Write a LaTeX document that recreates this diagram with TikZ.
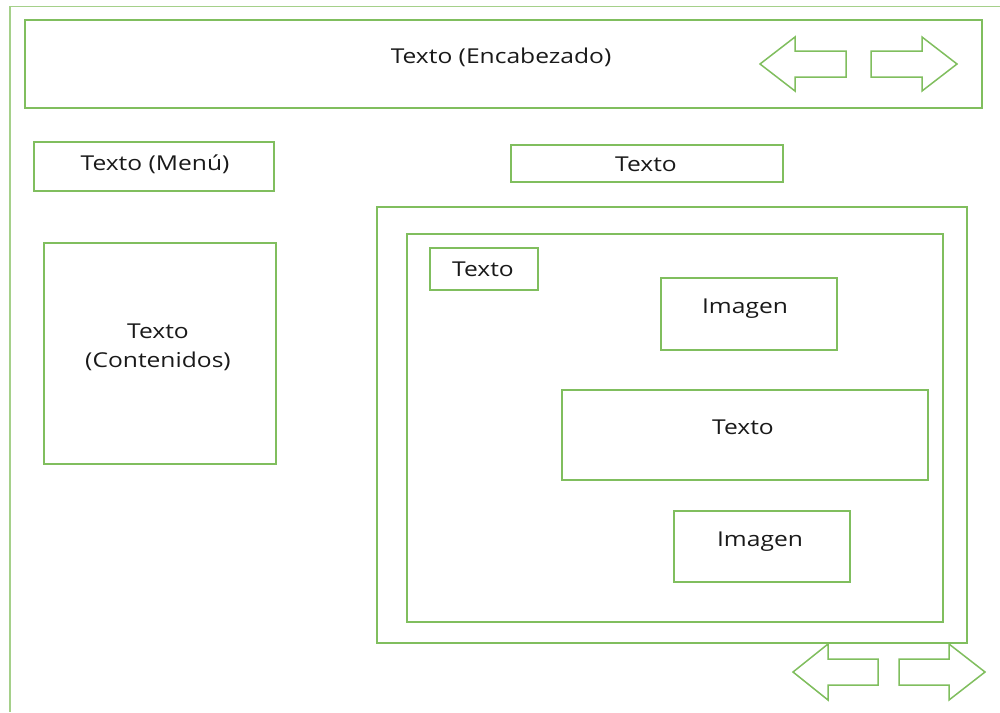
\documentclass[tikz,border=0pt]{standalone}
\usepackage{fontspec}
\usepackage{graphicx}
\setmainfont{Open Sans}
\usetikzlibrary{positioning}
\definecolor{boxgreen}{RGB}{128,190,94}
\definecolor{framegreen}{RGB}{165,208,138}
\newcommand{\widetext}[1]{\scalebox{1.2}[1]{\begin{tabular}{@{}c@{}}#1\end{tabular}}}

\begin{document}
\begin{tikzpicture}[x=1pt,y=-1pt,
	box/.style={draw=boxgreen, line width=1.8pt, inner sep=0pt},
	txt/.style={font=\fontsize{20.5}{29}\selectfont, text=black!90, inner sep=0pt},
	arrowshape/.style={draw=boxgreen, line width=1.5pt, fill=white, line join=miter}]
		\useasboundingbox (0,0) rectangle (1000,712);
		
		%page frame
		\draw [framegreen, line width=1pt] (10,6) -- (1000,6);
		\draw [framegreen, line width=2.2pt] (10,6) -- (10,712);
		
		%header
		\node[box, minimum width=957, minimum height=88] (header) at (503.5,64) {};
		\node[txt] (header-t) at (501,58) {\widetext{Texto (Encabezado)}};
		\draw[arrowshape] (760,64) -- (795,37) -- (795,51) -- (846,51) -- (846,77) -- (795,77) -- (795,91) -- cycle;
		\draw[arrowshape] (871,51) -- (922,51) -- (922,37) -- (957,64) -- (922,91) -- (922,77) -- (871,77) -- cycle;
		
		%left column
		\node[box, minimum width=240, minimum height=49] (menu) at (154,166.5) {};
		\node[txt] (menu-t) at (155,165) {\widetext{Texto (Menú)}};
		\node[box, minimum width=232, minimum height=221] (contenidos) at (160,353.5) {};
		\node[txt] (contenidos-t) at (158,347) {\widetext{Texto\\(Contenidos)}};
		
		%right column
		\node[box, minimum width=272, minimum height=37] (titulo) at (647,163.5) {};
		\node[txt] (titulo-t) at (646,166) {\widetext{Texto}};
		\node[box, minimum width=590, minimum height=436] (marco) at (672,425) {};
		\node[box, minimum width=536, minimum height=388] (panel) at (675,428) {};
		\node[box, minimum width=108, minimum height=42] (rotulo) at (484,269) {};
		\node[txt] (rotulo-t) at (483,271) {\widetext{Texto}};
		\node[box, minimum width=176, minimum height=72] (imagen1) at (749,314) {};
		\node[txt] (imagen1-t) at (745,308) {\widetext{Imagen}};
		\node[box, minimum width=366, minimum height=90] (cuerpo) at (745,435) {};
		\node[txt] (cuerpo-t) at (743,429) {\widetext{Texto}};
		\node[box, minimum width=176, minimum height=71] (imagen2) at (762,546.5) {};
		\node[txt] (imagen2-t) at (760,541) {\widetext{Imagen}};
		
		%page arrows
		\draw[arrowshape] (793,672) -- (828,644) -- (828,659) -- (878,659) -- (878,685) -- (828,685) -- (828,700) -- cycle;
		\draw[arrowshape] (899,659) -- (949,659) -- (949,644) -- (985,672) -- (949,700) -- (949,685) -- (899,685) -- cycle;
	
	\end{tikzpicture}
\end{document}
